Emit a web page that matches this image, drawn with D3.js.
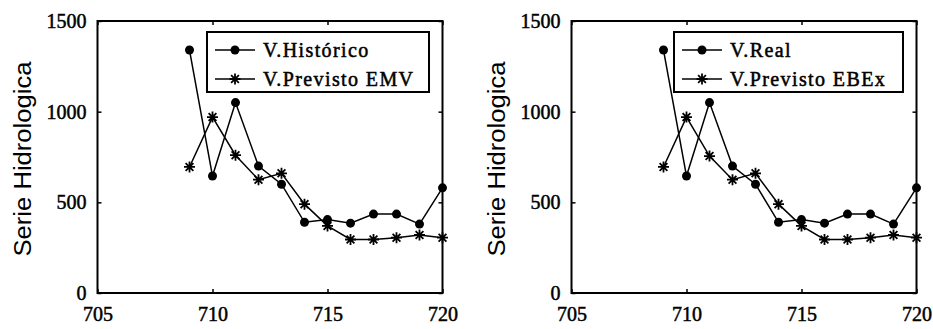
<!DOCTYPE html>
<html><head><meta charset="utf-8">
<script src="https://cdn.jsdelivr.net/npm/d3@7"></script>
<style>body{margin:0;background:#fff}svg{display:block}</style>
</head><body><svg id="c" width="933" height="329"></svg>
<script>
// ---- data ----
const years = [709,710,711,712,713,714,715,716,717,718,719,720];
const historico = [1340,645,1050,700,600,390,405,385,435,435,380,580];
const previstoEMV = [695,970,760,625,660,490,370,295,295,305,320,305];
const real = [1340,645,1050,700,600,390,405,385,435,435,380,580];
const previstoEBEx = [695,970,755,625,660,490,370,295,295,305,320,305];
const xTicks = [705,710,715,720];
const yTicks = [0,500,1000,1500];
const yTitle = "Serie Hidrologica";
const leftLegend = ["V.Histórico","V.Previsto EMV"];
const rightLegend = ["V.Real","V.Previsto EBEx"];

const panels = [
  {x0:97.5, series:[historico, previstoEMV], legend:leftLegend, lx:207, lw:222},
  {x0:571.5, series:[real, previstoEBEx], legend:rightLegend, lx:674, lw:229}
];
const plotTop = 21, plotBottom = 293, plotWidth = 345;
const svg = d3.select("#c");
const serif = "'Liberation Serif','Times New Roman',serif";

function starPath(r){
  const d = r*0.7071;
  return `M${-r},0L${r},0M0,${-r}L0,${r}M${-d},${-d}L${d},${d}M${-d},${d}L${d},${-d}`;
}

panels.forEach(p => {
  const x = d3.scaleLinear().domain([705,720]).range([p.x0, p.x0+plotWidth]);
  const y = d3.scaleLinear().domain([0,1500]).range([plotBottom, plotTop]);
  const g = svg.append("g");

  const ax = g.append("g").attr("transform",`translate(0,${plotBottom})`)
    .call(d3.axisBottom(x).tickValues(xTicks).tickSizeInner(-4).tickSizeOuter(0).tickPadding(14).tickFormat(d3.format("d")));
  const ay = g.append("g").attr("transform",`translate(${p.x0},0)`)
    .call(d3.axisLeft(y).tickValues(yTicks).tickSizeInner(-4).tickSizeOuter(0).tickPadding(11).tickFormat(d3.format("d")));
  const at = g.append("g").attr("transform",`translate(0,${plotTop})`)
    .call(d3.axisTop(x).tickValues(xTicks).tickSizeInner(-4).tickSizeOuter(0).tickFormat(""));
  const ar = g.append("g").attr("transform",`translate(${p.x0+plotWidth},0)`)
    .call(d3.axisRight(y).tickValues(yTicks).tickSizeInner(-4).tickSizeOuter(0).tickFormat(""));
  [ax,ay,at,ar].forEach(a => {
    a.select(".domain").remove();
    a.selectAll("line").attr("stroke","#000").attr("stroke-width",1.5);
    a.selectAll("text").attr("font-family",serif).attr("font-size",20).attr("fill","#000")
      .attr("stroke","#000").attr("stroke-width",0.5);
  });

  g.append("rect").attr("x",p.x0).attr("y",plotTop).attr("width",plotWidth).attr("height",plotBottom-plotTop)
    .attr("fill","none").attr("stroke","#000").attr("stroke-width",2);

  g.append("text")
    .attr("transform",`translate(${p.x0-67},159) rotate(-90)`)
    .attr("text-anchor","middle")
    .attr("font-family","'Liberation Sans',Arial,sans-serif")
    .attr("font-size",23)
    .attr("textLength",195).attr("lengthAdjust","spacingAndGlyphs")
    .text(yTitle);

  const line = d3.line().x((d,i)=>x(years[i])).y(d=>y(d));
  p.series.forEach((s,k) => {
    g.append("path").datum(s).attr("d",line).attr("fill","none").attr("stroke","#000").attr("stroke-width",1.5);
    if (k===0) {
      g.selectAll(null).data(s).enter().append("circle")
        .attr("cx",(d,i)=>x(years[i])).attr("cy",d=>y(d)).attr("r",4.5).attr("fill","#000");
    } else {
      g.selectAll(null).data(s).enter().append("path")
        .attr("transform",(d,i)=>`translate(${x(years[i])},${y(d)})`)
        .attr("d",starPath(5.5)).attr("stroke","#000").attr("stroke-width",1.8).attr("fill","none");
    }
  });

  const lg = g.append("g").attr("transform",`translate(${p.lx},32)`);
  lg.append("rect").attr("width",p.lw).attr("height",60).attr("fill","#fff").attr("stroke","#000").attr("stroke-width",2);
  const rows = [18,47];
  p.legend.forEach((t,k) => {
    lg.append("line").attr("x1",8).attr("x2",48).attr("y1",rows[k]).attr("y2",rows[k]).attr("stroke","#000").attr("stroke-width",1.5);
    if (k===0) lg.append("circle").attr("cx",28).attr("cy",rows[k]).attr("r",4.5).attr("fill","#000");
    else lg.append("path").attr("transform",`translate(28,${rows[k]})`).attr("d",starPath(5.5)).attr("stroke","#000").attr("stroke-width",1.8);
    lg.append("text").attr("x",56).attr("y",rows[k]).attr("dy","0.35em")
      .attr("font-family",serif).attr("font-size",20).attr("letter-spacing",1.4)
      .attr("stroke","#000").attr("stroke-width",0.5).text(t);
  });
});
</script></body></html>
